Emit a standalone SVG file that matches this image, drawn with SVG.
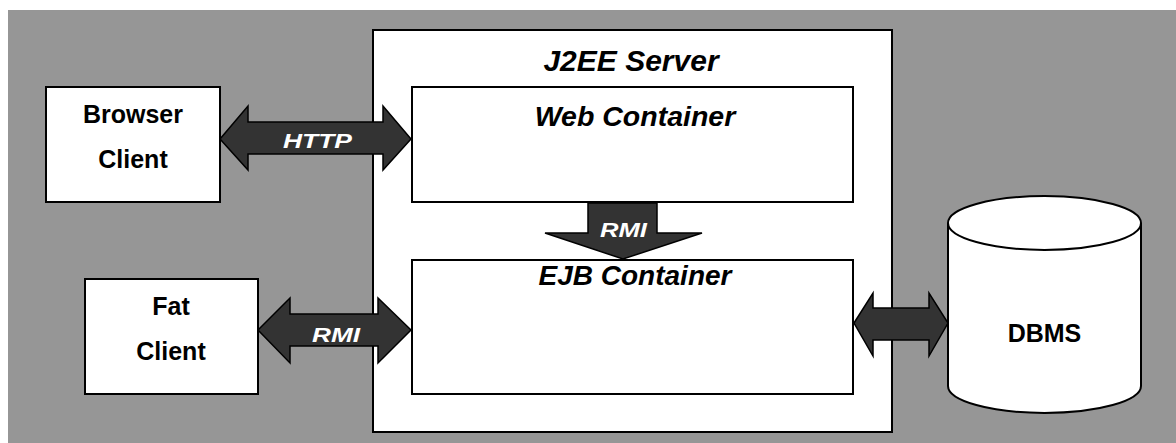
<svg xmlns="http://www.w3.org/2000/svg" width="1176" height="443" viewBox="0 0 1176 443">
<style>
.box{fill:#fff;stroke:#000;stroke-width:2}
.arr{fill:#333;stroke:#000;stroke-width:1.5;stroke-linejoin:miter}
.t{font-family:"Liberation Sans",Arial,sans-serif;font-weight:bold;fill:#000;text-anchor:middle}
.ti{font-family:"Liberation Sans",Arial,sans-serif;font-weight:bold;font-style:italic;fill:#000;text-anchor:middle}
.lbl{font-family:"Liberation Sans",Arial,sans-serif;font-weight:bold;font-style:italic;fill:#fff;font-size:20px}
</style>
<rect x="8" y="10" width="1168" height="433" fill="#969696"/>
<g id="j2ee-server">
<rect class="box" x="373" y="30" width="519" height="402"/>
<text class="ti" x="631" y="71" font-size="30">J2EE Server</text>
</g>
<g id="web-container">
<rect class="box" x="412" y="87" width="441" height="115"/>
<text class="ti" x="635" y="126" font-size="28.5">Web Container</text>
</g>
<g id="ejb-container">
<rect class="box" x="412" y="260" width="441" height="134"/>
<text class="ti" x="635" y="285" font-size="28">EJB Container</text>
</g>
<g id="browser-client">
<rect class="box" x="46" y="87" width="174" height="115"/>
<text class="t" x="133" y="123" font-size="25">Browser</text>
<text class="t" x="133" y="168" font-size="25">Client</text>
</g>
<g id="fat-client">
<rect class="box" x="85" y="279" width="173" height="115"/>
<text class="t" x="171" y="315" font-size="25">Fat</text>
<text class="t" x="171" y="360" font-size="25">Client</text>
</g>
<g id="dbms">
<path class="box" d="M948,223 v163 a96.5,27 0 0 0 193,0 v-163 a96.5,27 0 0 0 -193,0 z"/>
<path d="M948,223 a96.5,27 0 0 0 193,0" fill="none" stroke="#000" stroke-width="2"/>
<text class="t" x="1044.5" y="342" font-size="25">DBMS</text>
</g>
<g id="connectors">
<polygon class="arr" points="220,139 248,106 248,122 383,122 383,106 411,139 383,170 383,154 248,154 248,170"/>
<text class="lbl" x="283" y="148" textLength="69" lengthAdjust="spacingAndGlyphs">HTTP</text>
<polygon class="arr" points="258,330 290,298 290,314 378,314 378,298 411,330 378,363 378,346 290,346 290,363"/>
<text class="lbl" x="312" y="342" textLength="48" lengthAdjust="spacingAndGlyphs">RMI</text>
<polygon class="arr" points="588,203 657,203 657,233 702,233 623,259 545,233 588,233"/>
<text class="lbl" x="600" y="237" textLength="47" lengthAdjust="spacingAndGlyphs">RMI</text>
<polygon class="arr" points="854,323 873,293 873,308 929,308 929,293 948,323 929,356 929,340 873,340 873,356"/>
</g>
</svg>
